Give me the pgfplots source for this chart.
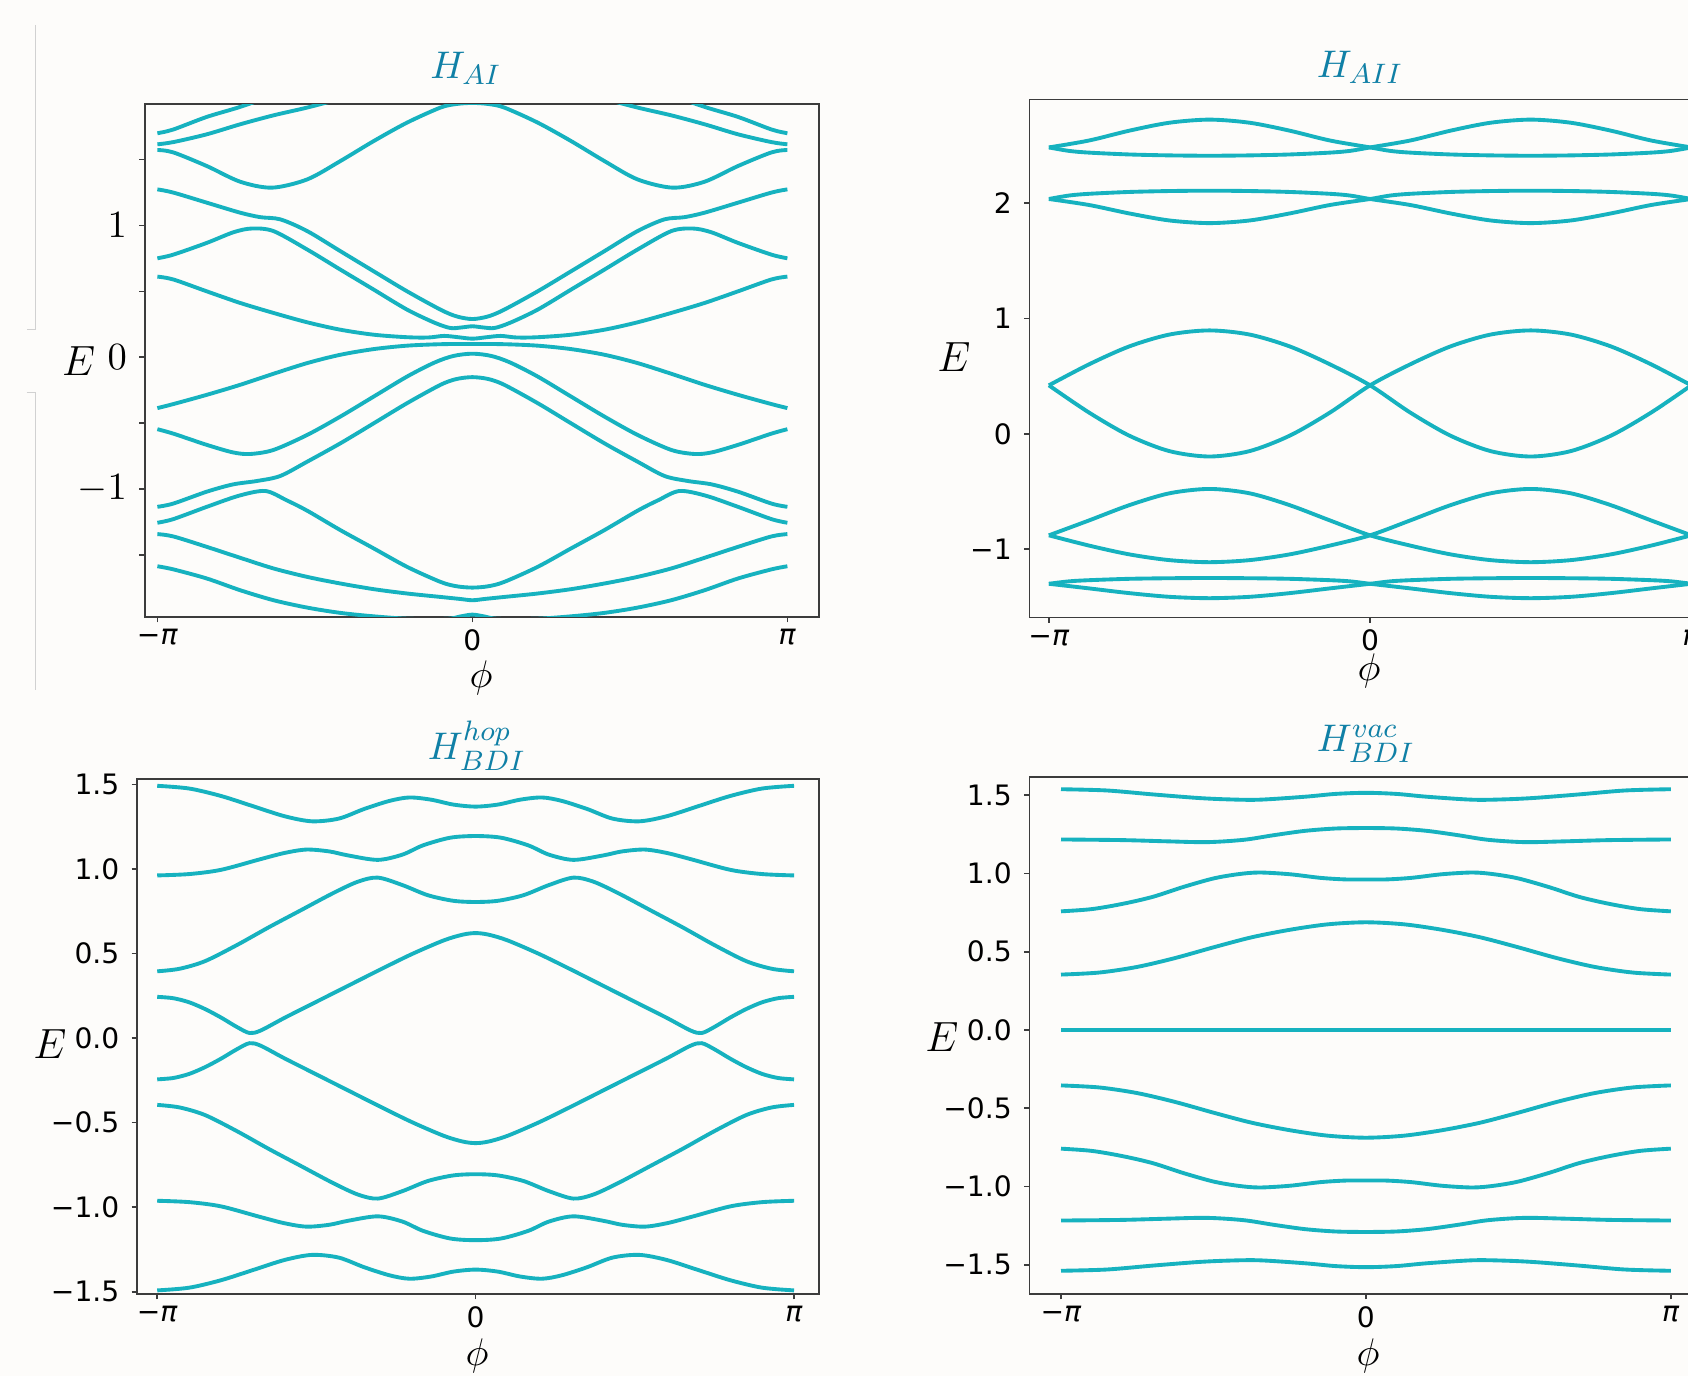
\documentclass[border=0pt]{standalone}
\usepackage{pgfplots}
\pgfplotsset{compat=1.18}
\usepackage{fontspec}
\setmainfont{DejaVu Sans}

\definecolor{band}{RGB}{22,178,191}
\definecolor{ttl}{RGB}{16,128,166}
\definecolor{bg}{RGB}{253,252,250}
\definecolor{frame}{RGB}{60,60,60}

\pgfplotsset{
  panel/.style={
    scale only axis,
    anchor=south west,
    axis line style={frame, line width=0.45pt},
    tick style={frame, line width=0.45pt},
    major tick length=0.055cm,
    tick align=outside,
    tick pos=left,
    xtick={-1,0,1},
    xticklabels={−\textit{π},0,\textit{π}},
    ticklabel style={font=\fontsize{8}{9.5}\selectfont, text=black},
    xticklabel style={yshift=1.5pt},
    every axis plot post/.append style={draw=band, line width=1.1pt, smooth, mark=none, solid},
  },
}

\begin{document}
\begin{tikzpicture}[x=0.01cm,y=0.01cm]
\useasboundingbox (0,0) rectangle (1688,1376);
\fill[bg] (0,0) rectangle (1688,1376);
% stray frame lines at the left edge
\draw[black!18, line width=0.4pt] (35.7,1351) -- (35.7,1046.4) -- (26.7,1046.4);
\draw[black!18, line width=0.4pt] (26.7,983.6) -- (35.7,983.6) -- (35.7,686);

% ---------------- H_AI ----------------
\begin{axis}[panel, at={(1.447cm,7.587cm)}, width=6.737cm, height=5.123cm,
  xmin=-1.04, xmax=1.10, ymin=-1.97, ymax=1.92,
  ytick={-1.5,-1,-0.5,0,0.5,1,1.5}, yticklabels={,$-1$,,$0$,,$1$,},
  yticklabel style={font=\fontsize{11}{13}\selectfont}]
\addplot coordinates {(-1,1.700) (-0.95,1.728) (-0.843,1.824) (-0.737,1.900) (-0.63,1.990) (-0.52,2.080)};
\addplot coordinates {(0.52,2.080) (0.63,1.990) (0.737,1.900) (0.843,1.824) (0.95,1.728) (1,1.700)};
\addplot coordinates {(-1,1.616) (-0.949,1.633) (-0.843,1.692) (-0.737,1.768) (-0.631,1.836) (-0.524,1.895) (-0.42,1.960) (-0.3,2.030)};
\addplot coordinates {(0.3,2.030) (0.42,1.960) (0.524,1.895) (0.631,1.836) (0.737,1.768) (0.843,1.692) (0.949,1.633) (1,1.616)};
\addplot coordinates {(-1,1.573) (-0.95,1.555) (-0.843,1.451) (-0.737,1.332) (-0.636,1.287) (-0.524,1.350) (-0.419,1.489) (-0.313,1.641) (-0.207,1.781) (-0.101,1.895) (-0.05,1.922) (0,1.930) (0.05,1.922) (0.101,1.895) (0.207,1.781) (0.313,1.641) (0.419,1.489) (0.524,1.350) (0.636,1.287) (0.737,1.332) (0.843,1.451) (0.95,1.555) (1,1.573)};
\addplot coordinates {(-1,1.274) (-0.95,1.250) (-0.843,1.173) (-0.737,1.097) (-0.673,1.063) (-0.609,1.046) (-0.524,0.957) (-0.419,0.805) (-0.313,0.652) (-0.207,0.500) (-0.101,0.361) (-0.05,0.310) (0,0.290) (0.05,0.310) (0.101,0.361) (0.207,0.500) (0.313,0.652) (0.419,0.805) (0.524,0.957) (0.609,1.046) (0.673,1.063) (0.737,1.097) (0.843,1.173) (0.95,1.250) (1,1.274)};
\addplot coordinates {(-1,0.751) (-0.949,0.779) (-0.843,0.868) (-0.758,0.949) (-0.700,0.977) (-0.631,0.957) (-0.524,0.817) (-0.419,0.665) (-0.313,0.513) (-0.207,0.361) (-0.12,0.262) (-0.07,0.222) (-0.035,0.226) (0,0.235) (0.035,0.226) (0.07,0.222) (0.12,0.262) (0.207,0.361) (0.313,0.513) (0.419,0.665) (0.524,0.817) (0.631,0.957) (0.700,0.977) (0.758,0.949) (0.843,0.868) (0.949,0.779) (1,0.751)};
\addplot coordinates {(-1,0.612) (-0.949,0.590) (-0.843,0.500) (-0.737,0.412) (-0.631,0.336) (-0.524,0.265) (-0.419,0.209) (-0.313,0.171) (-0.207,0.152) (-0.14,0.150) (-0.09,0.162) (-0.045,0.152) (0,0.141) (0.045,0.152) (0.09,0.162) (0.14,0.150) (0.207,0.152) (0.313,0.171) (0.419,0.209) (0.524,0.265) (0.631,0.336) (0.737,0.412) (0.843,0.500) (0.949,0.590) (1,0.612)};
\addplot coordinates {(-1,-0.386) (-0.949,-0.355) (-0.843,-0.285) (-0.737,-0.209) (-0.631,-0.125) (-0.524,-0.044) (-0.419,0.019) (-0.313,0.062) (-0.207,0.088) (-0.101,0.099) (0,0.101) (0.101,0.099) (0.207,0.088) (0.313,0.062) (0.419,0.019) (0.524,-0.044) (0.631,-0.125) (0.737,-0.209) (0.843,-0.285) (0.949,-0.355) (1,-0.386)};
\addplot coordinates {(-1,-0.546) (-0.949,-0.580) (-0.843,-0.665) (-0.760,-0.722) (-0.705,-0.734) (-0.631,-0.703) (-0.524,-0.589) (-0.419,-0.450) (-0.313,-0.298) (-0.207,-0.146) (-0.12,-0.040) (-0.06,0.010) (0,0.027) (0.06,0.010) (0.12,-0.040) (0.207,-0.146) (0.313,-0.298) (0.419,-0.450) (0.524,-0.589) (0.631,-0.703) (0.705,-0.734) (0.760,-0.722) (0.843,-0.665) (0.949,-0.580) (1,-0.546)};
\addplot coordinates {(-1,-1.135) (-0.949,-1.110) (-0.843,-1.020) (-0.760,-0.965) (-0.684,-0.939) (-0.610,-0.901) (-0.524,-0.792) (-0.419,-0.653) (-0.313,-0.501) (-0.207,-0.348) (-0.101,-0.209) (-0.05,-0.165) (0,-0.151) (0.05,-0.165) (0.101,-0.209) (0.207,-0.348) (0.313,-0.501) (0.419,-0.653) (0.524,-0.792) (0.610,-0.901) (0.684,-0.939) (0.760,-0.965) (0.843,-1.020) (0.949,-1.110) (1,-1.135)};
\addplot coordinates {(-1,-1.256) (-0.949,-1.228) (-0.843,-1.135) (-0.740,-1.050) (-0.657,-1.015) (-0.590,-1.085) (-0.524,-1.165) (-0.419,-1.312) (-0.313,-1.451) (-0.207,-1.591) (-0.101,-1.705) (-0.05,-1.738) (0,-1.748) (0.05,-1.738) (0.101,-1.705) (0.207,-1.591) (0.313,-1.451) (0.419,-1.312) (0.524,-1.165) (0.590,-1.085) (0.657,-1.015) (0.740,-1.050) (0.843,-1.135) (0.949,-1.228) (1,-1.256)};
\addplot coordinates {(-1,-1.342) (-0.949,-1.360) (-0.843,-1.439) (-0.737,-1.522) (-0.631,-1.603) (-0.524,-1.667) (-0.419,-1.717) (-0.313,-1.760) (-0.207,-1.793) (-0.101,-1.819) (-0.04,-1.834) (0,-1.844) (0.04,-1.834) (0.101,-1.819) (0.207,-1.793) (0.313,-1.760) (0.419,-1.717) (0.524,-1.667) (0.631,-1.603) (0.737,-1.522) (0.843,-1.439) (0.949,-1.360) (1,-1.342)};
\addplot coordinates {(-1,-1.586) (-0.949,-1.610) (-0.843,-1.679) (-0.737,-1.768) (-0.631,-1.844) (-0.524,-1.900) (-0.419,-1.940) (-0.313,-1.966) (-0.2,-1.985) (-0.08,-1.985) (-0.04,-1.968) (0,-1.953) (0.04,-1.968) (0.08,-1.985) (0.2,-1.985) (0.313,-1.966) (0.419,-1.940) (0.524,-1.900) (0.631,-1.844) (0.737,-1.768) (0.843,-1.679) (0.949,-1.610) (1,-1.586)};
\end{axis}

% ---------------- H_AII ----------------
\begin{axis}[panel, at={(10.29cm,7.582cm)}, width=6.934cm, height=5.175cm,
  xmin=-1.06, xmax=1.10, ymin=-1.59, ymax=2.898,
  ytick={-1,0,1,2}, yticklabels={−1,0,1,2}]
\addplot coordinates {(-1,2.483) (-0.875,2.543) (-0.75,2.628) (-0.625,2.697) (-0.5,2.724) (-0.375,2.697) (-0.25,2.628) (-0.125,2.543) (0,2.483) (0.0625,2.453) (0.125,2.438) (0.25,2.422) (0.375,2.414) (0.5,2.411) (0.625,2.414) (0.75,2.422) (0.875,2.438) (0.9375,2.453) (1,2.483)};
\addplot coordinates {(-1,2.483) (-0.9375,2.453) (-0.875,2.438) (-0.75,2.422) (-0.625,2.414) (-0.5,2.411) (-0.375,2.414) (-0.25,2.422) (-0.125,2.438) (-0.0625,2.453) (0,2.483) (0.125,2.543) (0.25,2.628) (0.375,2.697) (0.5,2.724) (0.625,2.697) (0.75,2.628) (0.875,2.543) (1,2.483)};
\addplot coordinates {(-1,2.036) (-0.9375,2.066) (-0.875,2.081) (-0.75,2.097) (-0.625,2.105) (-0.5,2.108) (-0.375,2.105) (-0.25,2.097) (-0.125,2.081) (-0.0625,2.066) (0,2.036) (0.125,1.984) (0.25,1.911) (0.375,1.850) (0.5,1.827) (0.625,1.850) (0.75,1.911) (0.875,1.984) (1,2.036)};
\addplot coordinates {(-1,2.036) (-0.875,1.984) (-0.75,1.911) (-0.625,1.850) (-0.5,1.827) (-0.375,1.850) (-0.25,1.911) (-0.125,1.984) (0,2.036) (0.0625,2.066) (0.125,2.081) (0.25,2.097) (0.375,2.105) (0.5,2.108) (0.625,2.105) (0.75,2.097) (0.875,2.081) (0.9375,2.066) (1,2.036)};
\addplot coordinates {(-1,0.421) (-0.875,0.603) (-0.75,0.758) (-0.625,0.861) (-0.5,0.897) (-0.375,0.861) (-0.25,0.758) (-0.125,0.603) (0,0.421) (0.125,0.185) (0.25,-0.015) (0.375,-0.149) (0.5,-0.196) (0.625,-0.149) (0.75,-0.015) (0.875,0.185) (1,0.421)};
\addplot coordinates {(-1,0.421) (-0.875,0.185) (-0.75,-0.015) (-0.625,-0.149) (-0.5,-0.196) (-0.375,-0.149) (-0.25,-0.015) (-0.125,0.185) (0,0.421) (0.125,0.603) (0.25,0.758) (0.375,0.861) (0.5,0.897) (0.625,0.861) (0.75,0.758) (0.875,0.603) (1,0.421)};
\addplot coordinates {(-1,-0.879) (-0.875,-0.750) (-0.75,-0.618) (-0.625,-0.515) (-0.5,-0.477) (-0.375,-0.515) (-0.25,-0.618) (-0.125,-0.750) (0,-0.879) (0.125,-0.968) (0.25,-1.044) (0.375,-1.094) (0.5,-1.112) (0.625,-1.094) (0.75,-1.044) (0.875,-0.968) (1,-0.879)};
\addplot coordinates {(-1,-0.879) (-0.875,-0.968) (-0.75,-1.044) (-0.625,-1.094) (-0.5,-1.112) (-0.375,-1.094) (-0.25,-1.044) (-0.125,-0.968) (0,-0.879) (0.125,-0.750) (0.25,-0.618) (0.375,-0.515) (0.5,-0.477) (0.625,-0.515) (0.75,-0.618) (0.875,-0.750) (1,-0.879)};
\addplot coordinates {(-1,-1.299) (-0.9375,-1.278) (-0.875,-1.268) (-0.75,-1.256) (-0.625,-1.251) (-0.5,-1.249) (-0.375,-1.251) (-0.25,-1.256) (-0.125,-1.268) (-0.0625,-1.278) (0,-1.299) (0.125,-1.339) (0.25,-1.380) (0.375,-1.412) (0.5,-1.424) (0.625,-1.412) (0.75,-1.380) (0.875,-1.339) (1,-1.299)};
\addplot coordinates {(-1,-1.299) (-0.875,-1.339) (-0.75,-1.380) (-0.625,-1.412) (-0.5,-1.424) (-0.375,-1.412) (-0.25,-1.380) (-0.125,-1.339) (0,-1.299) (0.0625,-1.278) (0.125,-1.268) (0.25,-1.256) (0.375,-1.251) (0.5,-1.249) (0.625,-1.251) (0.75,-1.256) (0.875,-1.268) (0.9375,-1.278) (1,-1.299)};
\end{axis}

% ---------------- H_BDI^hop ----------------
\begin{axis}[panel, at={(1.371cm,0.82cm)}, width=6.813cm, height=5.146cm,
  xmin=-1.063, xmax=1.078, ymin=-1.513, ymax=1.532,
  ytick={-1.5,-1,-0.5,0,0.5,1,1.5}, yticklabels={−1.5,−1.0,−0.5,0.0,0.5,1.0,1.5}]
\addplot coordinates {(-1,1.492) (-0.9,1.476) (-0.8,1.432) (-0.7,1.372) (-0.6,1.312) (-0.514,1.282) (-0.43,1.298) (-0.35,1.355) (-0.27,1.403) (-0.208,1.423) (-0.14,1.410) (-0.07,1.381) (0,1.369) (0.07,1.381) (0.14,1.410) (0.208,1.423) (0.27,1.403) (0.35,1.355) (0.43,1.298) (0.514,1.282) (0.6,1.312) (0.7,1.372) (0.8,1.432) (0.9,1.476) (1,1.492)};
\addplot coordinates {(-1,0.962) (-0.9,0.970) (-0.8,0.995) (-0.68,1.056) (-0.6,1.095) (-0.531,1.115) (-0.46,1.104) (-0.4,1.080) (-0.307,1.054) (-0.23,1.085) (-0.165,1.140) (-0.08,1.185) (0,1.195) (0.08,1.185) (0.165,1.140) (0.23,1.085) (0.307,1.054) (0.4,1.080) (0.46,1.104) (0.531,1.115) (0.6,1.095) (0.68,1.056) (0.8,0.995) (0.9,0.970) (1,0.962)};
\addplot coordinates {(-1,0.395) (-0.93,0.410) (-0.85,0.455) (-0.75,0.550) (-0.65,0.655) (-0.55,0.755) (-0.45,0.855) (-0.37,0.925) (-0.307,0.949) (-0.23,0.905) (-0.15,0.845) (-0.07,0.812) (0,0.805) (0.07,0.812) (0.15,0.845) (0.23,0.905) (0.307,0.949) (0.37,0.925) (0.45,0.855) (0.55,0.755) (0.65,0.655) (0.75,0.550) (0.85,0.455) (0.93,0.410) (1,0.395)};
\addplot coordinates {(-1,0.244) (-0.95,0.236) (-0.9,0.212) (-0.85,0.172) (-0.8,0.122) (-0.75,0.066) (-0.71,0.030) (-0.675,0.045) (-0.6,0.120) (-0.5,0.215) (-0.4,0.310) (-0.3,0.405) (-0.2,0.497) (-0.1,0.578) (-0.04,0.612) (0,0.621) (0.04,0.612) (0.1,0.578) (0.2,0.497) (0.3,0.405) (0.4,0.310) (0.5,0.215) (0.6,0.120) (0.675,0.045) (0.71,0.030) (0.75,0.066) (0.8,0.122) (0.85,0.172) (0.9,0.212) (0.95,0.236) (1,0.244)};
\addplot coordinates {(-1,-0.244) (-0.95,-0.236) (-0.9,-0.212) (-0.85,-0.172) (-0.8,-0.122) (-0.75,-0.066) (-0.71,-0.030) (-0.675,-0.045) (-0.6,-0.120) (-0.5,-0.215) (-0.4,-0.310) (-0.3,-0.405) (-0.2,-0.497) (-0.1,-0.578) (-0.04,-0.612) (0,-0.621) (0.04,-0.612) (0.1,-0.578) (0.2,-0.497) (0.3,-0.405) (0.4,-0.310) (0.5,-0.215) (0.6,-0.120) (0.675,-0.045) (0.71,-0.030) (0.75,-0.066) (0.8,-0.122) (0.85,-0.172) (0.9,-0.212) (0.95,-0.236) (1,-0.244)};
\addplot coordinates {(-1,-0.395) (-0.93,-0.410) (-0.85,-0.455) (-0.75,-0.550) (-0.65,-0.655) (-0.55,-0.755) (-0.45,-0.855) (-0.37,-0.925) (-0.307,-0.949) (-0.23,-0.905) (-0.15,-0.845) (-0.07,-0.812) (0,-0.805) (0.07,-0.812) (0.15,-0.845) (0.23,-0.905) (0.307,-0.949) (0.37,-0.925) (0.45,-0.855) (0.55,-0.755) (0.65,-0.655) (0.75,-0.550) (0.85,-0.455) (0.93,-0.410) (1,-0.395)};
\addplot coordinates {(-1,-0.962) (-0.9,-0.970) (-0.8,-0.995) (-0.68,-1.056) (-0.6,-1.095) (-0.531,-1.115) (-0.46,-1.104) (-0.4,-1.080) (-0.307,-1.054) (-0.23,-1.085) (-0.165,-1.140) (-0.08,-1.185) (0,-1.195) (0.08,-1.185) (0.165,-1.140) (0.23,-1.085) (0.307,-1.054) (0.4,-1.080) (0.46,-1.104) (0.531,-1.115) (0.6,-1.095) (0.68,-1.056) (0.8,-0.995) (0.9,-0.970) (1,-0.962)};
\addplot coordinates {(-1,-1.492) (-0.9,-1.476) (-0.8,-1.432) (-0.7,-1.372) (-0.6,-1.312) (-0.514,-1.282) (-0.43,-1.298) (-0.35,-1.355) (-0.27,-1.403) (-0.208,-1.423) (-0.14,-1.410) (-0.07,-1.381) (0,-1.369) (0.07,-1.381) (0.14,-1.410) (0.208,-1.423) (0.27,-1.403) (0.35,-1.355) (0.43,-1.298) (0.514,-1.282) (0.6,-1.312) (0.7,-1.372) (0.8,-1.432) (0.9,-1.476) (1,-1.492)};
\end{axis}

% ---------------- H_BDI^vac ----------------
\begin{axis}[panel, at={(10.29cm,0.82cm)}, width=6.713cm, height=5.168cm,
  xmin=-1.103, xmax=1.10, ymin=-1.686, ymax=1.617,
  ytick={-1.5,-1,-0.5,0,0.5,1,1.5}, yticklabels={−1.5,−1.0,−0.5,0.0,0.5,1.0,1.5}]
\addplot coordinates {(-1,1.538) (-0.85,1.530) (-0.7,1.505) (-0.55,1.482) (-0.45,1.473) (-0.35,1.471) (-0.2,1.490) (-0.1,1.508) (0,1.515) (0.1,1.508) (0.2,1.490) (0.35,1.471) (0.45,1.473) (0.55,1.482) (0.7,1.505) (0.85,1.530) (1,1.538)};
\addplot coordinates {(-1,1.217) (-0.8,1.213) (-0.65,1.205) (-0.52,1.200) (-0.4,1.215) (-0.3,1.245) (-0.2,1.272) (-0.1,1.287) (0,1.290) (0.1,1.287) (0.2,1.272) (0.3,1.245) (0.4,1.215) (0.52,1.200) (0.65,1.205) (0.8,1.213) (1,1.217)};
\addplot coordinates {(-1,0.758) (-0.9,0.772) (-0.8,0.805) (-0.7,0.850) (-0.6,0.913) (-0.5,0.968) (-0.42,0.995) (-0.35,1.006) (-0.25,0.995) (-0.15,0.972) (-0.07,0.962) (0,0.961) (0.07,0.962) (0.15,0.972) (0.25,0.995) (0.35,1.006) (0.42,0.995) (0.5,0.968) (0.6,0.913) (0.7,0.850) (0.8,0.805) (0.9,0.772) (1,0.758)};
\addplot coordinates {(-1,0.354) (-0.875,0.367) (-0.75,0.403) (-0.625,0.460) (-0.5,0.528) (-0.375,0.592) (-0.25,0.640) (-0.125,0.675) (0,0.688) (0.125,0.675) (0.25,0.640) (0.375,0.592) (0.5,0.528) (0.625,0.460) (0.75,0.403) (0.875,0.367) (1,0.354)};
\addplot coordinates {(-1,0) (-0.5,0) (0,0) (0.5,0) (1,0)};
\addplot coordinates {(-1,-0.354) (-0.875,-0.367) (-0.75,-0.403) (-0.625,-0.460) (-0.5,-0.528) (-0.375,-0.592) (-0.25,-0.640) (-0.125,-0.675) (0,-0.688) (0.125,-0.675) (0.25,-0.640) (0.375,-0.592) (0.5,-0.528) (0.625,-0.460) (0.75,-0.403) (0.875,-0.367) (1,-0.354)};
\addplot coordinates {(-1,-0.758) (-0.9,-0.772) (-0.8,-0.805) (-0.7,-0.850) (-0.6,-0.913) (-0.5,-0.968) (-0.42,-0.995) (-0.35,-1.006) (-0.25,-0.995) (-0.15,-0.972) (-0.07,-0.962) (0,-0.961) (0.07,-0.962) (0.15,-0.972) (0.25,-0.995) (0.35,-1.006) (0.42,-0.995) (0.5,-0.968) (0.6,-0.913) (0.7,-0.850) (0.8,-0.805) (0.9,-0.772) (1,-0.758)};
\addplot coordinates {(-1,-1.217) (-0.8,-1.213) (-0.65,-1.205) (-0.52,-1.200) (-0.4,-1.215) (-0.3,-1.245) (-0.2,-1.272) (-0.1,-1.287) (0,-1.290) (0.1,-1.287) (0.2,-1.272) (0.3,-1.245) (0.4,-1.215) (0.52,-1.200) (0.65,-1.205) (0.8,-1.213) (1,-1.217)};
\addplot coordinates {(-1,-1.538) (-0.85,-1.530) (-0.7,-1.505) (-0.55,-1.482) (-0.45,-1.473) (-0.35,-1.471) (-0.2,-1.490) (-0.1,-1.508) (0,-1.515) (0.1,-1.508) (0.2,-1.490) (0.35,-1.471) (0.45,-1.473) (0.55,-1.482) (0.7,-1.505) (0.85,-1.530) (1,-1.538)};
\end{axis}

% titles and axis labels
\begin{scope}[every node/.style={inner sep=0pt}]
\node[text=ttl, font=\fontsize{11}{13}\selectfont] at (466,1308) {$H_{AI}$};
\node[text=ttl, font=\fontsize{11}{13}\selectfont] at (1360,1309) {$H_{AII}$};
\node[text=ttl, font=\fontsize{11}{13}\selectfont] at (477,630) {$H_{BDI}^{hop}$};
\node[text=ttl, font=\fontsize{11}{13}\selectfont] at (1366,632) {$H_{BDI}^{vac}$};
\node[font=\fontsize{12}{14}\selectfont] at (78.6,1015.4) {$E$};
\node[font=\fontsize{12}{14}\selectfont] at (954,1019) {$E$};
\node[font=\fontsize{12}{14}\selectfont] at (50,332) {$E$};
\node[font=\fontsize{12}{14}\selectfont] at (942,338.6) {$E$};
\node[font=\fontsize{11}{13}\selectfont] at (481,698) {$\phi$};
\node[font=\fontsize{11}{13}\selectfont] at (1369,705) {$\phi$};
\node[font=\fontsize{11}{13}\selectfont] at (477,20) {$\phi$};
\node[font=\fontsize{11}{13}\selectfont] at (1368,20) {$\phi$};
\end{scope}
\end{tikzpicture}
\end{document}
